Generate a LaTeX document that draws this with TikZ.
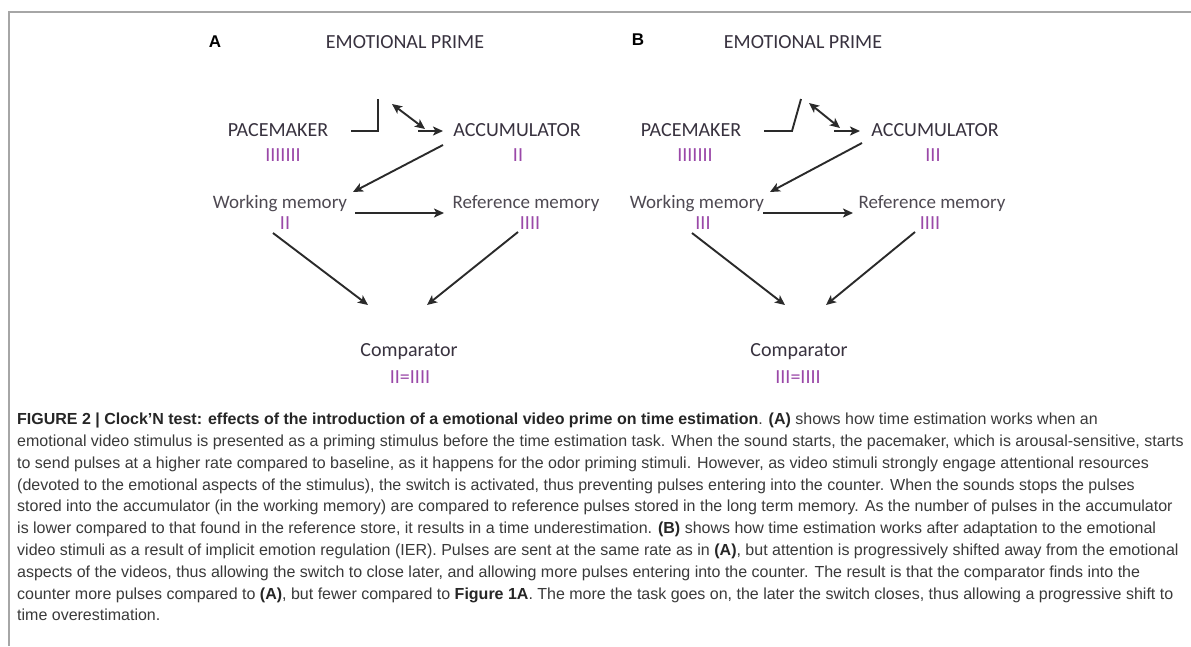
\documentclass[tikz,border=0pt]{standalone}
\usepackage{fontspec}
\setmainfont{Liberation Sans}
\newfontfamily\diagfont{Carlito}
\usetikzlibrary{arrows.meta}
\definecolor{lblc}{HTML}{38323F}
\definecolor{wmc}{HTML}{4E4952}
\definecolor{tallyc}{HTML}{9A48A8}
\definecolor{capc}{HTML}{3A3A3A}
\definecolor{framec}{HTML}{A6A6A6}
\definecolor{arrc}{HTML}{2A2A2A}
\begin{document}
\begin{tikzpicture}[x=1pt,y=-1pt,
  lbl/.style={font=\diagfont\fontsize{20}{20}\selectfont, text=lblc, inner sep=0pt, anchor=base},
  mem/.style={font=\diagfont\fontsize{19}{19}\selectfont, text=wmc, inner sep=0pt, anchor=base},
  tal/.style={font=\diagfont\fontsize{20}{20}\selectfont, text=tallyc, inner sep=0pt, anchor=base},
  panel/.style={font=\bfseries\fontsize{17}{17}\selectfont, text=black, inner sep=0pt, anchor=base},
  capline/.style={font=\fontsize{16}{16}\selectfont, text=capc, inner sep=0pt, anchor=base west},
  arr/.style={draw=arrc, line width=1.9pt, -{Stealth[length=10pt,width=9pt,inset=2.5pt]}},
  darr/.style={draw=arrc, line width=1.9pt, {Stealth[length=10pt,width=9pt,inset=2.5pt]}-{Stealth[length=10pt,width=9pt,inset=2.5pt]}},
  sw/.style={draw=arrc, line width=1.9pt},
  framel/.style={draw=framec, line width=2pt}
]
\useasboundingbox (0,0) rectangle (1191,646);
\fill[white] (0,0) rectangle (1191,646);
\draw[framel] (1191,12) -- (9,12) -- (9,646);

% ---------------- Panel A ----------------
\node[panel] (lblA) at (215,47) {A};
\node[lbl] (epA) at (405,48.5) {EMOTIONAL PRIME};
\node[lbl] (pmA) at (278,136.5) {PACEMAKER};
\node[tal] (tpmA) at (283,161.5) {IIIIIII};
\node[lbl] (accA) at (517,136.5) {ACCUMULATOR};
\node[tal] (taccA) at (518,161.5) {II};
\node[mem] (wmA) at (280,208) {Working memory};
\node[tal] (twmA) at (285,229.5) {II};
\node[mem] (rmA) at (526,208) {Reference memory};
\node[tal] (trmA) at (530,229.5) {IIII};
\node[lbl] (cmpA) at (409,356.5) {Comparator};
\node[tal] (tcmpA) at (410,383.5) {II=IIII};

\coordinate (swA1) at (351,131);
\coordinate (swA2) at (378,131);
\coordinate (swA3) at (378,99);
\coordinate (dA1) at (392,104);
\coordinate (dA2) at (425,129);
\coordinate (hA1) at (418,131);
\coordinate (hA2) at (443,131);
\coordinate (awA1) at (443,145);
\coordinate (awA2) at (353,192);
\coordinate (wrA1) at (355,213);
\coordinate (wrA2) at (444,213);
\coordinate (wcA1) at (273,233);
\coordinate (wcA2) at (368,305);
\coordinate (rcA1) at (518,232);
\coordinate (rcA2) at (427,305);

\draw[sw] (swA1) -- (swA2) -- (swA3);
\draw[darr] (dA1) -- (dA2);
\draw[arr] (hA1) -- (hA2);
\draw[arr] (awA1) -- (awA2);
\draw[arr] (wrA1) -- (wrA2);
\draw[arr] (wcA1) -- (wcA2);
\draw[arr] (rcA1) -- (rcA2);

% ---------------- Panel B ----------------
\node[panel] (lblB) at (638,45) {B};
\node[lbl] (epB) at (803,48.5) {EMOTIONAL PRIME};
\node[lbl] (pmB) at (691,136.5) {PACEMAKER};
\node[tal] (tpmB) at (695,161.5) {IIIIIII};
\node[lbl] (accB) at (935,136.5) {ACCUMULATOR};
\node[tal] (taccB) at (933,161.5) {III};
\node[mem] (wmB) at (697,208) {Working memory};
\node[tal] (twmB) at (703,229.5) {III};
\node[mem] (rmB) at (932,208) {Reference memory};
\node[tal] (trmB) at (930,229.5) {IIII};
\node[lbl] (cmpB) at (799,356.5) {Comparator};
\node[tal] (tcmpB) at (798,383.5) {III=IIII};

\coordinate (swB1) at (764,131);
\coordinate (swB2) at (792,131);
\coordinate (swB3) at (801,99);
\coordinate (dB1) at (809,103);
\coordinate (dB2) at (840,128);
\coordinate (hB1) at (834,131);
\coordinate (hB2) at (860,131);
\coordinate (awB1) at (862,143);
\coordinate (awB2) at (770,192);
\coordinate (wrB1) at (763,213);
\coordinate (wrB2) at (853,213);
\coordinate (wcB1) at (692,233);
\coordinate (wcB2) at (785,305);
\coordinate (rcB1) at (915,232);
\coordinate (rcB2) at (826,305);

\draw[sw] (swB1) -- (swB2) -- (swB3);
\draw[darr] (dB1) -- (dB2);
\draw[arr] (hB1) -- (hB2);
\draw[arr] (awB1) -- (awB2);
\draw[arr] (wrB1) -- (wrB2);
\draw[arr] (wcB1) -- (wcB2);
\draw[arr] (rcB1) -- (rcB2);

% ---------------- Caption ----------------
\node[capline] (c1) at (17,424) {\textbf{\color{black!85}FIGURE 2 | Clock'N test: effects of the introduction of a emotional video prime on time estimation}. \textbf{\color{black!85}(A)} shows how time estimation works when an};
\node[capline] (c2) at (17,446) {emotional video stimulus is presented as a priming stimulus before the time estimation task. When the sound starts, the pacemaker, which is arousal-sensitive, starts};
\node[capline] (c3) at (17,468) {to send pulses at a higher rate compared to baseline, as it happens for the odor priming stimuli. However, as video stimuli strongly engage attentional resources};
\node[capline] (c4) at (17,490) {(devoted to the emotional aspects of the stimulus), the switch is activated, thus preventing pulses entering into the counter. When the sounds stops the pulses};
\node[capline] (c5) at (17,511.5) {stored into the accumulator (in the working memory) are compared to reference pulses stored in the long term memory. As the number of pulses in the accumulator};
\node[capline] (c6) at (17,533) {is lower compared to that found in the reference store, it results in a time underestimation. \textbf{\color{black!85}(B)} shows how time estimation works after adaptation to the emotional};
\node[capline] (c7) at (17,555) {video stimuli as a result of implicit emotion regulation (IER). Pulses are sent at the same rate as in \textbf{\color{black!85}(A)}, but attention is progressively shifted away from the emotional};
\node[capline] (c8) at (17,577) {aspects of the videos, thus allowing the switch to close later, and allowing more pulses entering into the counter. The result is that the comparator finds into the};
\node[capline] (c9) at (17,599) {counter more pulses compared to \textbf{\color{black!85}(A)}, but fewer compared to \textbf{\color{black!85}Figure 1A}. The more the task goes on, the later the switch closes, thus allowing a progressive shift to};
\node[capline] (c10) at (17,620) {time overestimation.};
\end{tikzpicture}
\end{document}
